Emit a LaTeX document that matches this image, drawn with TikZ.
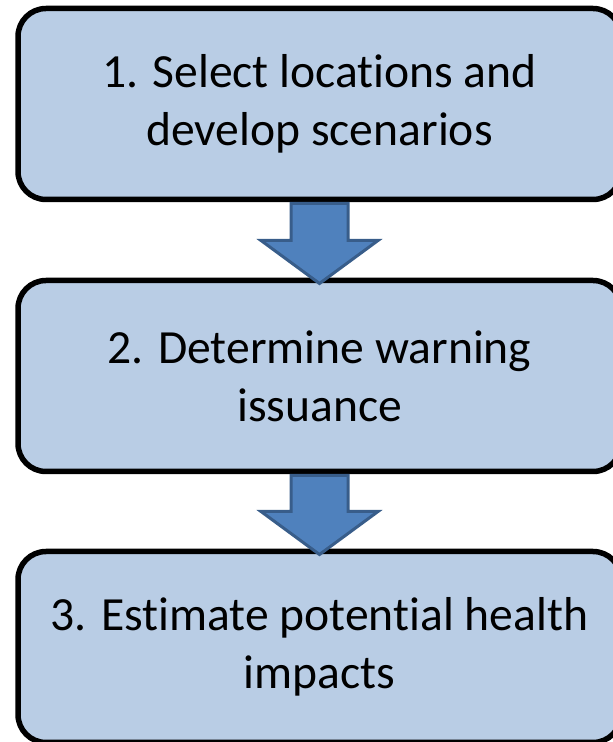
\documentclass[tikz,border=0pt]{standalone}
\usepackage{fontspec}
\setmainfont{Carlito}[Ligatures=NoCommon]
\usetikzlibrary{positioning}
\definecolor{stagefill}{HTML}{B9CDE5}
\definecolor{arrowfill}{HTML}{4F81BD}
\definecolor{arrowline}{HTML}{385D8A}

\begin{document}
\begin{tikzpicture}[x=1pt, y=1pt,
        stage/.style={draw=black, line width=5.5pt, fill=stagefill, rounded corners=28pt,
            minimum width=603pt, minimum height=191pt, inner sep=0pt, outer sep=0pt,
            align=center, font=\fontsize{47.6}{58}\selectfont},
        flowarrow/.style={draw=arrowline, line width=3pt, fill=arrowfill, line join=miter}]
        \useasboundingbox (0,0) rectangle (613,742);

        \node[stage] (s1) at (319.5,638) {1. Select locations and\\develop scenarios};
        \node[stage, below=81pt of s1] (s2) {2. Determine warning\\issuance};
        \node[stage, below=80pt of s2] (s3) {3. Estimate potential health\\impacts};

        \draw[flowarrow] ([shift={(-28.5,-4)}]s1.south) -- ++(0,-37) -- ++(-30,0)
            -- ([yshift=-3]s2.north) -- ++(58.5,43) -- ++(-30,0) -- ++(0,37) -- cycle;
        \draw[flowarrow] ([shift={(-28.5,-4)}]s2.south) -- ++(0,-36) -- ++(-30,0)
            -- ([yshift=-3]s3.north) -- ++(58.5,43) -- ++(-30,0) -- ++(0,36) -- cycle;

    \end{tikzpicture}
\end{document}
